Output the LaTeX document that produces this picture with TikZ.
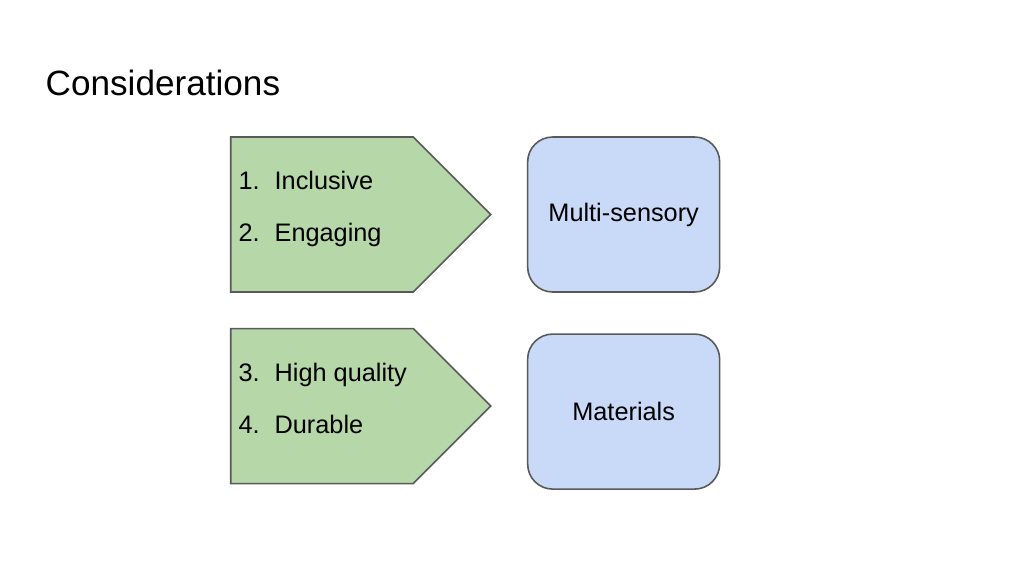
\documentclass[tikz,border=0pt]{standalone}
\usepackage{fontspec}
\setmainfont{Liberation Sans}
\usepackage{tikz}
\usetikzlibrary{shapes.symbols,positioning}
\definecolor{aimgreen}{HTML}{B6D7A8}
\definecolor{aimblue}{HTML}{C9DAF8}
\definecolor{aimedge}{HTML}{595959}
\tikzset{
  aimarrow/.style={signal, signal to=east, signal pointer angle=90, draw=aimedge, fill=aimgreen, line width=0.45pt, minimum width=2.6cm, minimum height=1.55cm, inner sep=0pt},
  aimbox/.style={rectangle, rounded corners=2.5mm, draw=aimedge, fill=aimblue, line width=0.45pt, minimum width=1.92cm, minimum height=1.55cm, align=center, font=\fontsize{7.2}{9}\selectfont},
  itemtext/.style={anchor=base west, inner sep=0pt, font=\fontsize{7.2}{9}\selectfont},
  heading/.style={anchor=base west, inner sep=0pt, font=\fontsize{10}{12}\selectfont},
}
\newcommand{\itemno}[2]{\makebox[0.36cm][l]{#1}#2}

\begin{document}
\begin{tikzpicture}[node distance=0.35cm and 0.35cm]
  \useasboundingbox (0,0) rectangle (10.24,5.76);
  \node[heading] (title) at (0.45,4.81) {Considerations};
  % left arrows
  \node[aimarrow] (goals) at (3.22,3.615) {};
  \node[aimarrow,below=of goals] (quality) {};
  % right boxes
  \node[aimbox,right=of goals] (sensory) {Multi-sensory};
  \node[aimbox,right=of quality,yshift=-0.55mm] (materials) {Materials};
  % list items
  \node[itemtext] (inclusive) at ([xshift=0.8mm,yshift=2.5mm]goals.west) {\itemno{1.}{Inclusive}};
  \node[itemtext] (engaging) at ([xshift=0.8mm,yshift=-2.7mm]goals.west) {\itemno{2.}{Engaging}};
  \node[itemtext] (high) at ([xshift=0.8mm,yshift=2.45mm]quality.west) {\itemno{3.}{High quality}};
  \node[itemtext] (durable) at ([xshift=0.8mm,yshift=-2.75mm]quality.west) {\itemno{4.}{Durable}};
\end{tikzpicture}
\end{document}
